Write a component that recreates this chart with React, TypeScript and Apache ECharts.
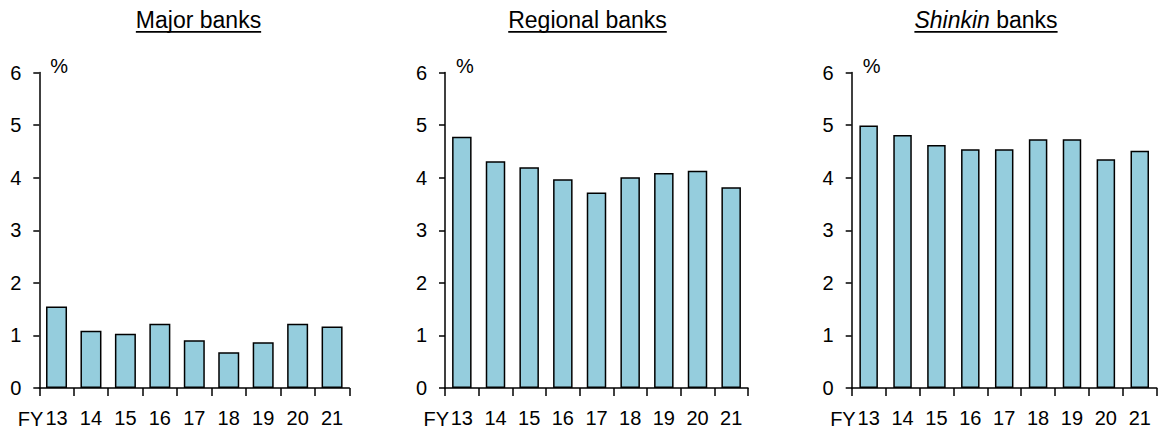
import React, { useEffect, useRef } from "react";
import * as echarts from "echarts";

const categories = ["13", "14", "15", "16", "17", "18", "19", "20", "21"];
const majorBanks = [1.55, 1.09, 1.03, 1.22, 0.91, 0.68, 0.87, 1.22, 1.17];
const regionalBanks = [4.78, 4.31, 4.2, 3.97, 3.72, 4.01, 4.09, 4.13, 3.82];
const shinkinBanks = [4.99, 4.81, 4.62, 4.54, 4.54, 4.73, 4.73, 4.35, 4.51];
const yMin = 0;
const yMax = 6;
const yInterval = 1;
const unitLabel = "%";
const fyLabel = "FY";
const titleItalic = ["", "", "Shinkin"];
const titlePlain = ["Major banks", "Regional banks", " banks"];

const FONT = '"Liberation Sans", Arial, sans-serif';
const W = 1159;
const H = 432;
const TOP = 72.5;
const HEIGHT = 315.5;
const panels = [
  { left: 39.3, width: 310, titleX: 198.5, barWidth: 21, data: majorBanks },
  { left: 445, width: 303, titleX: 587.5, barWidth: 19.5, data: regionalBanks },
  { left: 851.7, width: 305, titleX: 986, barWidth: 18.5, data: shinkinBanks },
];

function measure(text: string, size: number, italic: boolean) {
  const c = document.createElement("canvas");
  const ctx = c.getContext("2d");
  if (!ctx) return text.length * size * 0.5;
  ctx.font = `${italic ? "italic " : ""}${size}px "Liberation Sans", Arial, sans-serif`;
  return ctx.measureText(text).width;
}

export default function App() {
  const ref = useRef<HTMLDivElement>(null);
  useEffect(() => {
    document.body.style.margin = "0";
    if (!ref.current) return;
    const chart = echarts.init(ref.current, undefined, { renderer: "svg" });
    const axisLine = { show: true, lineStyle: { color: "#000", width: 1.5 } };
    const graphics: any[] = [];
    panels.forEach((p, i) => {
      const tSize = 23;
      const wi = titleItalic[i] ? measure(titleItalic[i], tSize, true) : 0;
      const wp = measure(titlePlain[i], tSize, false);
      const tw = wi + wp;
      graphics.push({
        type: "text",
        x: p.titleX,
        y: 20.3,
        style: {
          text: titleItalic[i] ? `{i|${titleItalic[i]}}${titlePlain[i]}` : titlePlain[i],
          fontFamily: FONT,
          fontSize: tSize,
          fill: "#000",
          align: "center",
          verticalAlign: "middle",
          rich: { i: { fontStyle: "italic", fontFamily: FONT, fontSize: tSize, fill: "#000" } },
        },
      });
      graphics.push({
        type: "rect",
        shape: { x: p.titleX - tw / 2, y: 31, width: tw, height: 1.8 },
        style: { fill: "#000" },
      });
      graphics.push({
        type: "text",
        x: p.left + 11,
        y: 66,
        style: { text: unitLabel, fontFamily: FONT, fontSize: 20, fill: "#000", align: "left", verticalAlign: "middle" },
      });
      graphics.push({
        type: "text",
        x: p.left + 4,
        y: 418.7,
        style: { text: fyLabel, fontFamily: FONT, fontSize: 20, fill: "#000", align: "right", verticalAlign: "middle" },
      });
    });
    chart.setOption({
      animation: false,
      textStyle: { fontFamily: FONT },
      grid: panels.map((p) => ({ left: p.left, top: TOP, width: p.width, height: HEIGHT, containLabel: false })),
      xAxis: panels.map((_, i) => ({
        type: "category",
        gridIndex: i,
        data: categories,
        boundaryGap: true,
        axisLine,
        axisTick: { show: true, length: 8, alignWithLabel: false, lineStyle: { color: "#000", width: 1.5 } },
        axisLabel: { fontSize: 20, color: "#000", margin: 20, fontFamily: FONT, interval: 0 },
        splitLine: { show: false },
      })),
      yAxis: panels.map((_, i) => ({
        type: "value",
        gridIndex: i,
        min: yMin,
        max: yMax,
        interval: yInterval,
        axisLine,
        axisTick: { show: true, length: 6, lineStyle: { color: "#000", width: 1.5 } },
        axisLabel: { fontSize: 20, color: "#000", margin: 18, fontFamily: FONT },
        splitLine: { show: false },
      })),
      series: panels.map((p, i) => ({
        type: "bar",
        xAxisIndex: i,
        yAxisIndex: i,
        data: p.data,
        barWidth: p.barWidth,
        itemStyle: { color: "#95CDDD", borderColor: "#000", borderWidth: 1.5 },
      })),
      graphic: graphics,
    });
    return () => chart.dispose();
  }, []);
  return <div ref={ref} style={{ width: W, height: H }} />;
}
